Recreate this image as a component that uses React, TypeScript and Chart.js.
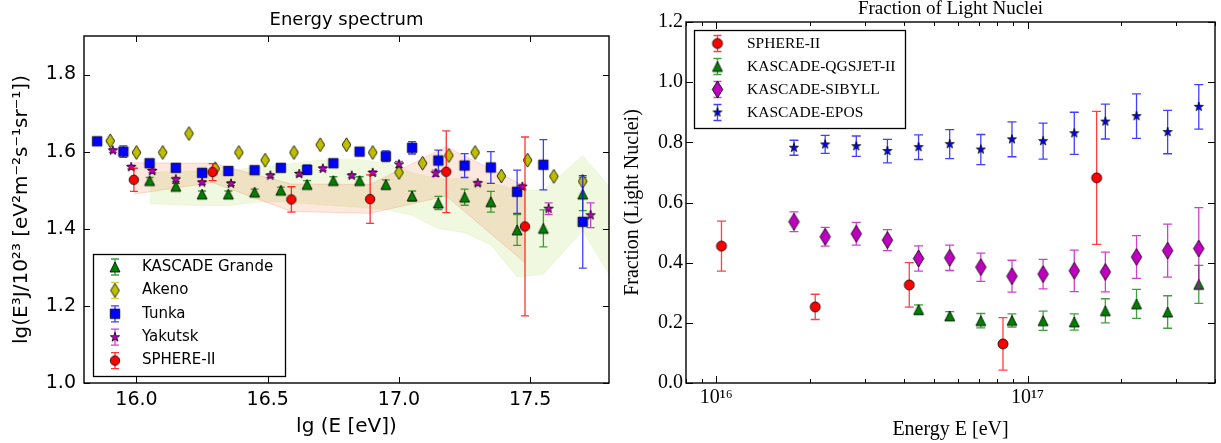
import React, { useEffect, useRef } from 'react';
import { Chart, registerables } from 'chart.js';

Chart.register(...registerables);

// ---------------- Left panel: Energy spectrum ----------------
const kgX = [16.05, 16.15, 16.25, 16.35, 16.45, 16.55, 16.65, 16.75, 16.85, 16.95, 17.05, 17.15, 17.25, 17.35, 17.45, 17.55, 17.70];
const kgY = [1.525, 1.510, 1.490, 1.490, 1.495, 1.500, 1.515, 1.525, 1.525, 1.515, 1.485, 1.467, 1.482, 1.470, 1.397, 1.401, 1.490];
const kgErr = [0.008, 0.008, 0.008, 0.008, 0.008, 0.008, 0.01, 0.01, 0.01, 0.012, 0.013, 0.017, 0.021, 0.027, 0.04, 0.048, 0.043];

const akenoX = [15.90, 16.00, 16.10, 16.20, 16.30, 16.39, 16.49, 16.60, 16.70, 16.80, 16.90, 17.00, 17.09, 17.19, 17.29, 17.39, 17.49, 17.59, 17.70];
const akenoY = [1.628, 1.598, 1.598, 1.647, 1.556, 1.598, 1.578, 1.598, 1.618, 1.618, 1.598, 1.546, 1.570, 1.590, 1.598, 1.537, 1.578, 1.536, 1.523];
const akenoErr = [0.004, 0.004, 0.004, 0.004, 0.004, 0.004, 0.004, 0.004, 0.004, 0.004, 0.004, 0.004, 0.004, 0.004, 0.004, 0.004, 0.004, 0.004, 0.004];

const tunkaX = [15.85, 15.95, 16.05, 16.15, 16.25, 16.35, 16.45, 16.55, 16.65, 16.75, 16.85, 16.95, 17.05, 17.15, 17.25, 17.35, 17.45, 17.55, 17.70];
const tunkaY = [1.627, 1.600, 1.570, 1.558, 1.545, 1.550, 1.552, 1.558, 1.553, 1.570, 1.600, 1.588, 1.610, 1.577, 1.564, 1.559, 1.496, 1.566, 1.418];
const tunkaErr = [0.008, 0.015, 0.005, 0.005, 0.005, 0.005, 0.005, 0.005, 0.012, 0.005, 0.005, 0.014, 0.016, 0.027, 0.031, 0.041, 0.056, 0.065, 0.12];

const yakX = [15.91, 15.98, 16.06, 16.15, 16.25, 16.36, 16.51, 16.62, 16.71, 16.82, 16.90, 17.00, 17.14, 17.30, 17.47, 17.57, 17.73];
const yakY = [1.603, 1.560, 1.550, 1.528, 1.520, 1.517, 1.538, 1.542, 1.556, 1.538, 1.545, 1.567, 1.544, 1.518, 1.509, 1.452, 1.435];
const yakErr = [0.005, 0.005, 0.005, 0.005, 0.005, 0.005, 0.005, 0.005, 0.005, 0.005, 0.005, 0.008, 0.008, 0.005, 0.006, 0.015, 0.032];

const sphX = [15.99, 16.29, 16.59, 16.89, 17.18, 17.48];
const sphY = [1.527, 1.547, 1.476, 1.477, 1.548, 1.406];
const sphErr = [0.03, 0.022, 0.033, 0.063, 0.106, 0.232];
const sphBandUpper = [1.571, 1.570, 1.516, 1.515, 1.613, 1.510];
const sphBandLower = [1.490, 1.520, 1.445, 1.440, 1.485, 1.312];

const kgBandX = [16.05, 16.15, 16.25, 16.35, 16.45, 16.55, 16.65, 16.75, 16.85, 16.95, 17.05, 17.15, 17.25, 17.35, 17.45, 17.55, 17.70, 17.85];
const kgBandUpper = [1.545, 1.550, 1.550, 1.550, 1.560, 1.565, 1.575, 1.580, 1.580, 1.570, 1.545, 1.530, 1.530, 1.520, 1.500, 1.500, 1.590, 1.470];
const kgBandLower = [1.465, 1.462, 1.460, 1.460, 1.468, 1.470, 1.465, 1.460, 1.455, 1.450, 1.435, 1.400, 1.390, 1.358, 1.275, 1.282, 1.395, 1.225];

const specXTicks = [16.0, 16.5, 17.0, 17.5];
const specXTickLabels = ['16.0', '16.5', '17.0', '17.5'];
const specYTicks = [1.0, 1.2, 1.4, 1.6, 1.8];
const specYTickLabels = ['1.0', '1.2', '1.4', '1.6', '1.8'];

// ---------------- Right panel: Fraction of Light Nuclei ----------------
const fracSphX = [1.04e16, 2.08e16, 4.17e16, 8.34e16, 1.667e17];
const fracSphY = [0.455, 0.253, 0.326, 0.130, 0.682];
const fracSphErr = [0.083, 0.042, 0.074, 0.087, 0.221];

const kascadeX = [1.778e16, 2.239e16, 2.818e16, 3.548e16, 4.467e16, 5.623e16, 7.079e16, 8.913e16, 1.122e17, 1.413e17, 1.778e17, 2.239e17, 2.818e17, 3.548e17];
const eposY = [0.782, 0.793, 0.787, 0.771, 0.784, 0.794, 0.776, 0.810, 0.804, 0.830, 0.869, 0.887, 0.834, 0.918];
const eposErr = [0.025, 0.03, 0.034, 0.039, 0.041, 0.048, 0.05, 0.058, 0.06, 0.07, 0.058, 0.074, 0.072, 0.074];
const sibyllY = [0.536, 0.486, 0.496, 0.475, 0.414, 0.416, 0.385, 0.355, 0.362, 0.373, 0.369, 0.419, 0.440, 0.447];
const sibyllErr = [0.033, 0.031, 0.038, 0.035, 0.042, 0.042, 0.047, 0.053, 0.049, 0.069, 0.066, 0.071, 0.088, 0.136];

const qgsX = [4.467e16, 5.623e16, 7.079e16, 8.913e16, 1.122e17, 1.413e17, 1.778e17, 2.239e17, 2.818e17, 3.548e17];
const qgsY = [0.244, 0.223, 0.207, 0.208, 0.207, 0.203, 0.240, 0.263, 0.236, 0.328];
const qgsErr = [0.016, 0.014, 0.024, 0.022, 0.032, 0.027, 0.04, 0.048, 0.054, 0.063];

const fracXTicks = [8e15, 9e15, 1e16, 2e16, 3e16, 4e16, 5e16, 6e16, 7e16, 8e16, 9e16, 1e17, 2e17, 3e17, 4e17];
const fracXTickLabels = ['', '', '10\u00b9\u2076', '', '', '', '', '', '', '', '', '10\u00b9\u2077', '', '', ''];
const fracXMajor = [1e16, 1e17];
const fracYTicks = [0.0, 0.2, 0.4, 0.6, 0.8, 1.0, 1.2];
const fracYTickLabels = ['0.0', '0.2', '0.4', '0.6', '0.8', '1.0', '1.2'];

// ---------------- helpers ----------------
const pts = (xs: number[], ys: number[]) => xs.map((x, i) => ({ x, y: ys[i] }));

type Shape = 'circle' | 'square' | 'triangle' | 'thinDiamond' | 'star';

function makeMarker(shape: Shape, fill: string, size: number): HTMLCanvasElement {
  const pad = 2;
  const h = size;
  const w = shape === 'thinDiamond' ? size * 0.62 : size;
  const c = document.createElement('canvas');
  c.width = Math.ceil(w + pad * 2);
  c.height = Math.ceil(h + pad * 2);
  const ctx = c.getContext('2d')!;
  const cx = c.width / 2;
  const cy = c.height / 2;
  ctx.beginPath();
  if (shape === 'circle') {
    ctx.arc(cx, cy, size / 2, 0, Math.PI * 2);
  } else if (shape === 'square') {
    ctx.rect(cx - size / 2, cy - size / 2, size, size);
  } else if (shape === 'triangle') {
    ctx.moveTo(cx, cy - size / 2);
    ctx.lineTo(cx + size / 2, cy + size / 2);
    ctx.lineTo(cx - size / 2, cy + size / 2);
    ctx.closePath();
  } else if (shape === 'thinDiamond') {
    ctx.moveTo(cx, cy - h / 2);
    ctx.lineTo(cx + w / 2, cy);
    ctx.lineTo(cx, cy + h / 2);
    ctx.lineTo(cx - w / 2, cy);
    ctx.closePath();
  } else {
    const R = size / 2;
    const r = R * 0.381966;
    for (let i = 0; i < 10; i++) {
      const a = -Math.PI / 2 + (i * Math.PI) / 5;
      const rr = i % 2 === 0 ? R : r;
      const px = cx + rr * Math.cos(a);
      const py = cy + rr * Math.sin(a);
      if (i === 0) ctx.moveTo(px, py);
      else ctx.lineTo(px, py);
    }
    ctx.closePath();
  }
  ctx.fillStyle = fill;
  ctx.fill();
  ctx.lineWidth = 0.8;
  ctx.strokeStyle = '#000';
  ctx.stroke();
  return c;
}

const errorBarsPlugin = {
  id: 'errorBars',
  beforeDatasetDraw(chart: any, args: any) {
    const ds: any = chart.data.datasets[args.index];
    if (!ds.errors) return;
    const { ctx, chartArea } = chart;
    const ys = chart.scales.y;
    const cap = ds.capHalf ?? 4;
    ctx.save();
    ctx.beginPath();
    ctx.rect(chartArea.left, chartArea.top, chartArea.right - chartArea.left, chartArea.bottom - chartArea.top);
    ctx.clip();
    ctx.strokeStyle = ds.errorColor;
    ctx.lineWidth = 1.3;
    args.meta.data.forEach((el: any, i: number) => {
      const v = ds.data[i].y;
      const e = ds.errors[i];
      const x = el.x;
      const yt = ys.getPixelForValue(v + e);
      const yb = ys.getPixelForValue(v - e);
      ctx.beginPath();
      ctx.moveTo(x, yt);
      ctx.lineTo(x, yb);
      ctx.moveTo(x - cap, yt);
      ctx.lineTo(x + cap, yt);
      ctx.moveTo(x - cap, yb);
      ctx.lineTo(x + cap, yb);
      ctx.stroke();
    });
    ctx.restore();
  },
};

const frameTicksPlugin = {
  id: 'frameTicks',
  afterDraw(chart: any, _args: any, opts: any) {
    const { ctx, chartArea: a } = chart;
    const xs = chart.scales.x;
    const ys = chart.scales.y;
    ctx.save();
    ctx.strokeStyle = '#000';
    ctx.lineWidth = 1;
    ctx.beginPath();
    xs.ticks.forEach((t: any) => {
      const px = Math.round(xs.getPixelForValue(t.value)) + 0.5;
      const len = opts.xMajor && !opts.xMajor.includes(t.value) ? opts.minorLen : opts.majorLen;
      ctx.moveTo(px, a.bottom);
      ctx.lineTo(px, a.bottom - len);
      ctx.moveTo(px, a.top);
      ctx.lineTo(px, a.top + len);
    });
    ys.ticks.forEach((t: any) => {
      const py = Math.round(ys.getPixelForValue(t.value)) + 0.5;
      ctx.moveTo(a.left, py);
      ctx.lineTo(a.left + opts.majorLen, py);
      ctx.moveTo(a.right, py);
      ctx.lineTo(a.right - opts.majorLen, py);
    });
    ctx.stroke();
    ctx.lineWidth = 1.4;
    ctx.strokeRect(a.left, a.top, a.right - a.left, a.bottom - a.top);
    ctx.restore();
  },
};

const boxLegendPlugin = {
  id: 'boxLegend',
  afterDraw(chart: any, _args: any, opts: any) {
    const ctx = chart.ctx;
    ctx.save();
    ctx.fillStyle = '#fff';
    ctx.fillRect(opts.x, opts.y, opts.w, opts.h);
    ctx.strokeStyle = '#000';
    ctx.lineWidth = 1.3;
    ctx.strokeRect(opts.x, opts.y, opts.w, opts.h);
    const entries = chart.data.datasets
      .filter((d: any) => d.errors)
      .slice()
      .sort((p: any, q: any) => p.legendRank - q.legendRank);
    entries.forEach((ds: any, i: number) => {
      const cy = opts.firstRow + i * opts.rowGap;
      const mx = opts.markerX;
      ctx.strokeStyle = ds.errorColor;
      ctx.lineWidth = 1.3;
      ctx.beginPath();
      ctx.moveTo(mx, cy - 8);
      ctx.lineTo(mx, cy + 8);
      ctx.moveTo(mx - 4, cy - 8);
      ctx.lineTo(mx + 4, cy - 8);
      ctx.moveTo(mx - 4, cy + 8);
      ctx.lineTo(mx + 4, cy + 8);
      ctx.stroke();
      const img = ds.pointStyle as HTMLCanvasElement;
      ctx.drawImage(img, mx - img.width / 2, cy - img.height / 2);
      ctx.fillStyle = '#000';
      ctx.font = opts.font;
      ctx.textAlign = 'left';
      ctx.textBaseline = 'middle';
      ctx.fillText(ds.label, opts.textX, cy);
    });
    ctx.restore();
  },
};

const SANS = "'DejaVu Sans', sans-serif";
const SERIF = "'Liberation Serif', 'DejaVu Serif', serif";

function leftConfig(): any {
  const mTri = makeMarker('triangle', '#008000', 10);
  const mDia = makeMarker('thinDiamond', '#bfbf00', 14);
  const mSq = makeMarker('square', '#0000ff', 9.5);
  const mStar = makeMarker('star', '#bf00bf', 10);
  const mCirc = makeMarker('circle', '#ff0000', 9.5);
  const pointBase = { pointRadius: 5, pointHoverRadius: 5, showLine: false };
  const band = { type: 'line', showLine: true, pointRadius: 0, pointHoverRadius: 0, borderWidth: 1, tension: 0 };
  return {
    type: 'scatter',
    data: {
      datasets: [
        { ...pointBase, label: 'SPHERE-II', data: pts(sphX, sphY), errors: sphErr, pointStyle: mCirc, errorColor: 'rgba(255,0,0,0.8)', order: 0, legendRank: 4 },
        { ...pointBase, label: 'Yakutsk', data: pts(yakX, yakY), errors: yakErr, pointStyle: mStar, errorColor: 'rgba(191,0,191,0.75)', order: 1, legendRank: 3 },
        { ...pointBase, label: 'Tunka', data: pts(tunkaX, tunkaY), errors: tunkaErr, pointStyle: mSq, errorColor: 'rgba(0,0,255,0.75)', order: 2, legendRank: 2 },
        { ...pointBase, label: 'Akeno', data: pts(akenoX, akenoY), errors: akenoErr, pointStyle: mDia, errorColor: 'rgba(191,191,0,0.75)', order: 3, legendRank: 1 },
        { ...pointBase, label: 'KASCADE Grande', data: pts(kgX, kgY), errors: kgErr, pointStyle: mTri, errorColor: 'rgba(0,128,0,0.75)', order: 4, legendRank: 0 },
        { ...band, label: 'sph-up', data: pts(sphX, sphBandUpper), fill: '+1', backgroundColor: 'rgba(240,130,60,0.18)', borderColor: 'rgba(235,90,60,0.2)', order: 5 },
        { ...band, label: 'sph-lo', data: pts(sphX, sphBandLower), fill: false, borderColor: 'rgba(235,90,60,0.2)', order: 5 },
        { ...band, label: 'kg-up', data: pts(kgBandX, kgBandUpper), fill: '+1', backgroundColor: 'rgba(154,205,50,0.15)', borderColor: 'rgba(154,205,50,0.1)', order: 6 },
        { ...band, label: 'kg-lo', data: pts(kgBandX, kgBandLower), fill: false, borderColor: 'rgba(154,205,50,0.1)', order: 6 },
      ],
    },
    options: {
      responsive: false,
      animation: false,
      events: [],
      layout: { padding: { left: 0, right: 6, top: 0, bottom: 0 } },
      plugins: {
        legend: { display: false },
        tooltip: { enabled: false },
        title: {
          display: true,
          text: 'Energy spectrum',
          fullSize: false,
          color: '#000',
          font: { family: SANS, size: 18, weight: 'normal', lineHeight: 1.2 },
          padding: { top: 10, bottom: 4.4 },
        },
        frameTicks: { majorLen: 6, minorLen: 3 },
        boxLegend: { x: 93.5, y: 254.5, w: 192, h: 122, firstRow: 267, rowGap: 23.4, markerX: 115, textX: 142, font: `15px ${SANS}` },
      },
      scales: {
        x: {
          type: 'linear',
          min: 15.8,
          max: 17.8,
          afterBuildTicks: (s: any) => { s.ticks = specXTicks.map((v) => ({ value: v })); },
          afterFit: (s: any) => { s.height = 60; },
          grid: { display: false, drawTicks: false },
          border: { display: false },
          ticks: { color: '#000', font: { family: SANS, size: 19 }, padding: 6, autoSkip: false, maxRotation: 0, callback: (_v: any, i: number) => specXTickLabels[i] },
          title: { display: true, text: 'lg (E [eV])', color: '#000', font: { family: SANS, size: 20 }, padding: { top: 0, bottom: 4 } },
        },
        y: {
          type: 'linear',
          min: 1.0,
          max: 1.9,
          afterBuildTicks: (s: any) => { s.ticks = specYTicks.map((v) => ({ value: v })); },
          afterFit: (s: any) => { s.width = 84; },
          grid: { display: false, drawTicks: false },
          border: { display: false },
          ticks: { color: '#000', font: { family: SANS, size: 19 }, padding: 8, autoSkip: false, callback: (_v: any, i: number) => specYTickLabels[i] },
          title: { display: true, text: 'lg(E\u00b3J/10\u00b2\u00b3 [eV\u00b2m\u207b\u00b2s\u207b\u00b9sr\u207b\u00b9])', color: '#000', font: { family: SANS, size: 20 }, padding: { top: 10, bottom: 0 } },
        },
      },
    },
    plugins: [errorBarsPlugin, frameTicksPlugin, boxLegendPlugin],
  };
}

function rightConfig(): any {
  const mCirc = makeMarker('circle', '#ff0000', 10);
  const mTri = makeMarker('triangle', '#008000', 10);
  const mDia = makeMarker('thinDiamond', '#bf00bf', 17);
  const mStar = makeMarker('star', '#0000ff', 9.5);
  const pointBase = { pointRadius: 5, pointHoverRadius: 5, showLine: false };
  return {
    type: 'scatter',
    data: {
      datasets: [
        { ...pointBase, label: 'KASCADE-EPOS', data: pts(kascadeX, eposY), errors: eposErr, pointStyle: mStar, errorColor: 'rgba(0,0,255,0.75)', capHalf: 4.5, order: 0, legendRank: 3 },
        { ...pointBase, label: 'KASCADE-SIBYLL', data: pts(kascadeX, sibyllY), errors: sibyllErr, pointStyle: mDia, errorColor: 'rgba(191,0,191,0.75)', capHalf: 4.5, order: 1, legendRank: 2 },
        { ...pointBase, label: 'KASCADE-QGSJET-II', data: pts(qgsX, qgsY), errors: qgsErr, pointStyle: mTri, errorColor: 'rgba(0,128,0,0.75)', capHalf: 4.5, order: 2, legendRank: 1 },
        { ...pointBase, label: 'SPHERE-II', data: pts(fracSphX, fracSphY), errors: fracSphErr, pointStyle: mCirc, errorColor: 'rgba(255,0,0,0.75)', capHalf: 4.5, order: 3, legendRank: 0 },
      ],
    },
    options: {
      responsive: false,
      animation: false,
      events: [],
      layout: { padding: { left: 0, right: 2, top: 0, bottom: 0 } },
      plugins: {
        legend: { display: false },
        tooltip: { enabled: false },
        title: {
          display: true,
          text: 'Fraction of Light Nuclei',
          fullSize: false,
          color: '#000',
          font: { family: SERIF, size: 19, weight: 'normal', lineHeight: 1 },
          padding: { top: 0, bottom: 3 },
        },
        frameTicks: { majorLen: 7, minorLen: 4, xMajor: fracXMajor },
        boxLegend: { x: 79.5, y: 30.5, w: 211, h: 98, firstRow: 43.5, rowGap: 23, markerX: 102.5, textX: 132, font: `15.5px ${SERIF}` },
      },
      scales: {
        x: {
          type: 'logarithmic',
          min: 8e15,
          max: 4e17,
          afterBuildTicks: (s: any) => { s.ticks = fracXTicks.map((v) => ({ value: v })); },
          afterFit: (s: any) => { s.height = 60; },
          grid: { display: false, drawTicks: false },
          border: { display: false },
          ticks: { color: '#000', font: { family: SERIF, size: 20 }, padding: 3, autoSkip: false, maxRotation: 0, callback: (_v: any, i: number) => fracXTickLabels[i] },
          title: { display: true, text: 'Energy E [eV]', color: '#000', font: { family: SERIF, size: 20 }, padding: { top: 0, bottom: 1 } },
        },
        y: {
          type: 'linear',
          min: 0,
          max: 1.2,
          afterBuildTicks: (s: any) => { s.ticks = fracYTicks.map((v) => ({ value: v })); },
          afterFit: (s: any) => { s.width = 71; },
          grid: { display: false, drawTicks: false },
          border: { display: false },
          ticks: { color: '#000', font: { family: SERIF, size: 20 }, padding: 3, autoSkip: false, callback: (_v: any, i: number) => fracYTickLabels[i] },
          title: { display: true, text: 'Fraction (Light Nuclei)', color: '#000', font: { family: SERIF, size: 20 }, padding: { top: 6, bottom: 0 } },
        },
      },
    },
    plugins: [errorBarsPlugin, frameTicksPlugin, boxLegendPlugin],
  };
}

export default function App() {
  const leftRef = useRef<HTMLCanvasElement>(null);
  const rightRef = useRef<HTMLCanvasElement>(null);
  useEffect(() => {
    const c1 = new Chart(leftRef.current as HTMLCanvasElement, leftConfig());
    const c2 = new Chart(rightRef.current as HTMLCanvasElement, rightConfig());
    return () => {
      c1.destroy();
      c2.destroy();
    };
  }, []);
  return (
    <div style={{ position: 'absolute', left: 0, top: 0, width: 1221, height: 443, background: '#fff' }}>
      <canvas ref={leftRef} width={615} height={443} style={{ position: 'absolute', left: 0, top: 0 }} />
      <canvas ref={rightRef} width={606} height={443} style={{ position: 'absolute', left: 615, top: 0 }} />
    </div>
  );
}
